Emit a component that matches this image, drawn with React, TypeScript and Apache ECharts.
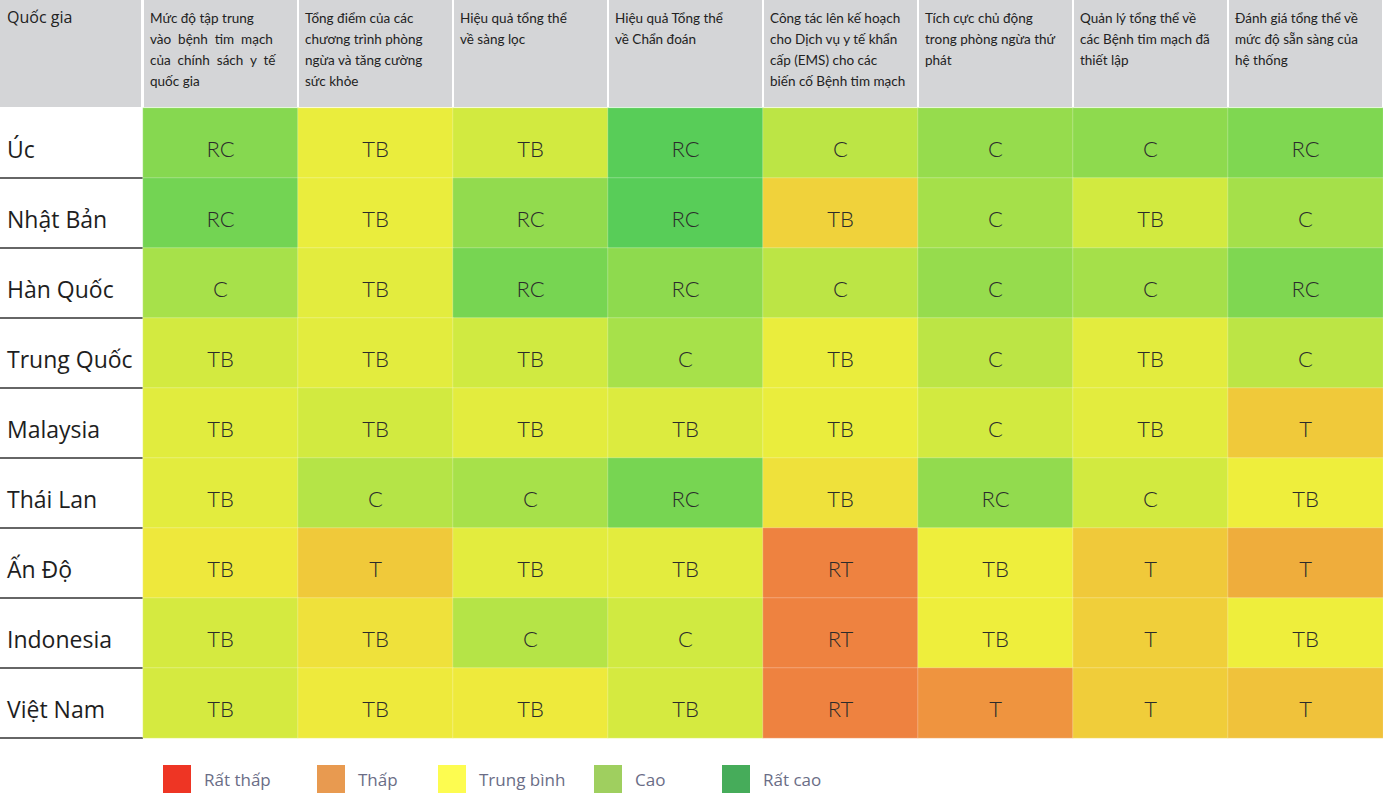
import React, { useEffect, useRef } from "react";
import * as echarts from "echarts";

const countries = ["Úc", "Nhật Bản", "Hàn Quốc", "Trung Quốc", "Malaysia", "Thái Lan", "Ấn Độ", "Indonesia", "Việt Nam"];

const criteria = [
  "Mức độ tập trung\nvào  bệnh  tim  mạch\ncủa  chính  sách  y  tế\nquốc gia",
  "Tổng điểm của các\nchương trình phòng\nngừa và tăng cường\nsức khỏe",
  "Hiệu quả tổng thể\nvề sàng lọc",
  "Hiệu quả Tổng thể\nvề Chẩn đoán",
  "Công tác lên kế hoạch\ncho Dịch vụ y tế khẩn\ncấp (EMS) cho các\nbiến cố Bệnh tim mạch",
  "Tích cực chủ động\ntrong phòng ngừa thứ\nphát",
  "Quản lý tổng thể về\ncác Bệnh tim mạch đã\nthiết lập",
  "Đánh giá tổng thể về\nmức độ sẵn sàng của\nhệ thống",
];

const headerCorner = "Quốc gia";

// rating labels per country (row) and criterion (column)
const ratingLabels = [
  ["RC", "TB", "TB", "RC", "C", "C", "C", "RC"],
  ["RC", "TB", "RC", "RC", "TB", "C", "TB", "C"],
  ["C", "TB", "RC", "RC", "C", "C", "C", "RC"],
  ["TB", "TB", "TB", "C", "TB", "C", "TB", "C"],
  ["TB", "TB", "TB", "TB", "TB", "C", "TB", "T"],
  ["TB", "C", "C", "RC", "TB", "RC", "C", "TB"],
  ["TB", "T", "TB", "TB", "RT", "TB", "T", "T"],
  ["TB", "TB", "C", "C", "RT", "TB", "T", "TB"],
  ["TB", "TB", "TB", "TB", "RT", "T", "T", "T"],
];

// underlying scores (0-100) that drive each cell's colour
const ratingScores = [
  [88, 43, 60, 100, 70, 84, 86, 90],
  [93, 43, 85, 100, 25, 80, 60, 80],
  [79, 48, 92, 86, 70, 84, 80, 90],
  [59, 48, 61, 79, 43, 70, 48, 70],
  [49, 60, 48, 53, 43, 60, 48, 20],
  [48, 73, 79, 92, 33, 85, 60, 40],
  [37, 20, 48, 48, 0, 40, 20, 12],
  [58, 33, 73, 61, 0, 40, 23, 40],
  [58, 38, 38, 58, 0, 5, 22, 18],
];

const legendNames = ["Rất thấp", "Thấp", "Trung bình", "Cao", "Rất cao"];
const legendColors = ["#ee3524", "#e89a50", "#fdfc50", "#9fcf5f", "#46ac5a"];

const scaleColors = ["#ee8240", "#f0c93a", "#eeee3c", "#d2ea40", "#a5e04a", "#58cd58"];

export default function App() {
  const ref = useRef<HTMLDivElement>(null);

  useEffect(() => {
    if (!ref.current) return;
    const chart = echarts.init(ref.current, null, { renderer: "svg" });

    const W = 1383;
    const gridLeft = 143;
    const gridTop = 108;
    const gridBottom = 63;
    const colW = (W - gridLeft) / criteria.length;
    const rowH = (801 - gridTop - gridBottom) / countries.length;

    const data: any[] = [];
    ratingScores.forEach((row, r) => {
      row.forEach((v, c) => {
        data.push([c, r, v]);
      });
    });

    const graphic: any[] = [];
    graphic.push({
      type: "rect",
      shape: { x: 0, y: 0, width: gridLeft - 2, height: gridTop - 1 },
      style: { fill: "#d4d5d7" },
      silent: true,
    });
    graphic.push({
      type: "text",
      x: 7,
      y: 9,
      style: { text: headerCorner, fill: "#222", font: "16px 'Open Sans', Lato, sans-serif" },
    });
    criteria.forEach((t, i) => {
      const x0 = gridLeft + colW * i;
      graphic.push({
        type: "rect",
        shape: { x: x0 + 1, y: 0, width: colW - 2, height: gridTop - 1 },
        style: { fill: "#d4d5d7" },
        silent: true,
      });
      graphic.push({
        type: "text",
        x: x0 + 7,
        y: 7,
        style: {
          text: t,
          fill: "#222",
          font: "13.5px Lato, 'Noto Sans', sans-serif",
          lineHeight: 21,
        },
      });
    });
    countries.forEach((_, i) => {
      const y = gridTop + rowH * (i + 1);
      graphic.push({
        type: "line",
        shape: { x1: 0, y1: y, x2: gridLeft, y2: y },
        style: { stroke: "#333", lineWidth: 1.5 },
        silent: true,
      });
    });
    const legendX = [163, 317, 438, 594, 722];
    legendNames.forEach((n, i) => {
      graphic.push({
        type: "rect",
        shape: { x: legendX[i], y: 765, width: 28, height: 28 },
        style: { fill: legendColors[i] },
      });
      graphic.push({
        type: "text",
        x: legendX[i] + 41,
        y: 779,
        style: {
          text: n,
          fill: "#6a6d86",
          font: "17px 'Open Sans', 'Noto Sans', sans-serif",
          verticalAlign: "middle",
        },
      });
    });

    chart.setOption({
      animation: false,
      backgroundColor: "#ffffff",
      grid: { left: gridLeft, top: gridTop, right: 0, bottom: gridBottom },
      xAxis: {
        type: "category",
        data: criteria,
        position: "top",
        axisLine: { show: false },
        axisTick: { show: false },
        axisLabel: { show: false },
        splitLine: { show: false },
      },
      yAxis: {
        type: "category",
        data: countries,
        inverse: true,
        axisLine: { show: false },
        axisTick: { show: false },
        axisLabel: {
          align: "left",
          verticalAlign: "top",
          lineHeight: 12,
          margin: gridLeft - 7,
          color: "#1e1e1e",
          fontSize: 23,
          fontFamily: "'Open Sans', Lato, sans-serif",
        },
      },
      visualMap: {
        show: false,
        type: "continuous",
        min: 0,
        max: 100,
        dimension: 2,
        inRange: { color: scaleColors },
      },
      series: [
        {
          type: "heatmap",
          data,
          itemStyle: { borderColor: "rgba(255,255,255,0.25)", borderWidth: 1 },
          label: {
            show: true,
            formatter: (p: any) => ratingLabels[p.value[1]][p.value[0]],
            color: "#2b2b2b",
            fontSize: 22,
            fontWeight: 300,
            offset: [0, 5],
            fontFamily: "Lato, 'Noto Sans', sans-serif",
          },
          emphasis: { disabled: true },
        },
      ],
      graphic,
    });

    return () => chart.dispose();
  }, []);

  return (
    <div
      ref={ref}
      style={{ position: "fixed", left: 0, top: 0, width: 1383, height: 801, background: "#fff" }}
    />
  );
}
